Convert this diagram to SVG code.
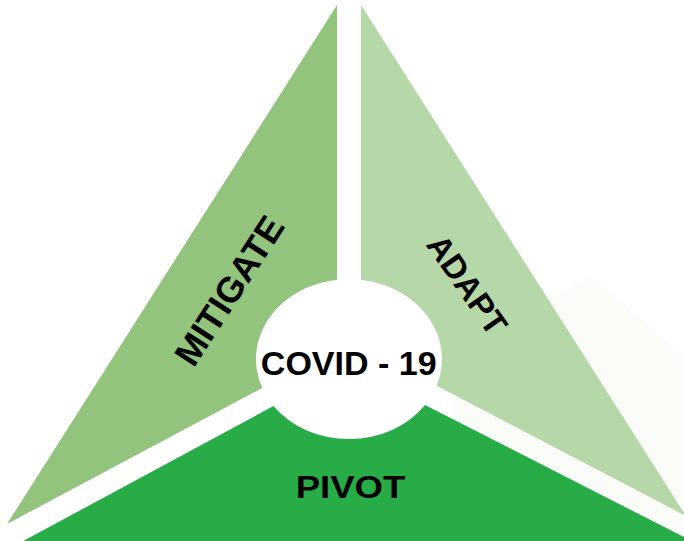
<svg xmlns="http://www.w3.org/2000/svg" width="684" height="541" viewBox="0 0 684 541">
<style>
.lbl{font-family:"Liberation Sans",Arial,sans-serif;font-weight:bold;fill:#000;text-anchor:middle}
</style>
<rect width="684" height="541" fill="#ffffff"/>
<g id="shadow">
<polygon points="590,276 684,358 684,541 500,541 452,430 452,392 520,320" fill="#fafcf8"/>
</g>
<g id="mitigate">
<path d="M337,5 L337,279.7 A93,80 0 0 0 262.3,388 L7,524 Z" fill="#93c47d"/>
<text class="lbl" font-size="36" transform="translate(229,290.5) rotate(-57)" x="0" y="12.8">MITIGATE</text>
</g>
<g id="adapt">
<path d="M361,5 L686,516 L436.6,385.8 A93,80 0 0 0 361,279.7 Z" fill="#b6d7a8"/>
<text class="lbl" font-size="33" transform="translate(467.5,284.5) rotate(55)" x="0" y="11.8">ADAPT</text>
</g>
<g id="pivot">
<path d="M-12,560 L273.5,406 A93,80 0 0 0 425,405 L729,560 Z" fill="#28ac48"/>
<text class="lbl" font-size="31" transform="translate(350.5,498) scale(1.18,1)" x="0" y="0">PIVOT</text>
</g>
<g id="covid">
<text class="lbl" font-size="34" x="348.7" y="375">COVID - 19</text>
</g>
<g id="connectors"></g>
</svg>
